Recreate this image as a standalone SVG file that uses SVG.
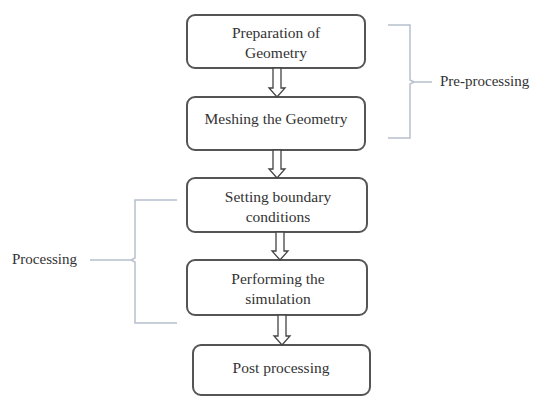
<svg xmlns="http://www.w3.org/2000/svg" width="533" height="396" viewBox="0 0 533 396">
<style>
.box{fill:#fff;stroke:#555;stroke-width:2}
.t{font-family:"Liberation Serif",serif;font-size:15.5px;fill:#333;text-anchor:middle}
.l{font-family:"Liberation Serif",serif;font-size:15px;fill:#333}
.arr{fill:#fff;stroke:#444;stroke-width:1.3}
.br{fill:none;stroke:#b8c0cc;stroke-width:1.5}
</style>
<rect width="533" height="396" fill="#fff"/>
<g id="n1"><rect class="box" x="187" y="15" width="178" height="53" rx="8"/><text class="t" x="276" y="38">Preparation of</text><text class="t" x="276" y="58">Geometry</text></g>
<g id="n2"><rect class="box" x="187" y="97" width="178" height="53" rx="8"/><text class="t" x="276" y="124">Meshing the Geometry</text></g>
<g id="n3"><rect class="box" x="187" y="178" width="180" height="54" rx="8"/><text class="t" x="278" y="202">Setting boundary</text><text class="t" x="278" y="222">conditions</text></g>
<g id="n4"><rect class="box" x="187" y="260" width="180" height="55" rx="8"/><text class="t" x="278" y="284">Performing the</text><text class="t" x="278" y="304">simulation</text></g>
<g id="n5"><rect class="box" x="193" y="345" width="177" height="50" rx="8"/><text class="t" x="281" y="373">Post processing</text></g>
<g id="connectors">
<path class="arr" d="M273,68 V88 H269 L277,97 L285,88 H281 V68 Z"/>
<path class="arr" d="M273,150 V169 H269 L277,178 L285,169 H281 V150 Z"/>
<path class="arr" d="M276,232 V251 H272 L280,260 L288,251 H284 V232 Z"/>
<path class="arr" d="M278,315 V336 H274 L282,345 L290,336 H286 V315 Z"/>
</g>
<g id="pre">
<path class="br" d="M388,25 H410 V80 L414,82 L410,84 V138 H388 M414,82 H432"/>
<text class="l" x="440" y="86">Pre-processing</text>
</g>
<g id="proc">
<path class="br" d="M177,200 H135 V258 L131,260 L135,262 V323 H177 M131,260 H90"/>
<text class="l" x="12" y="264">Processing</text>
</g>
</svg>
